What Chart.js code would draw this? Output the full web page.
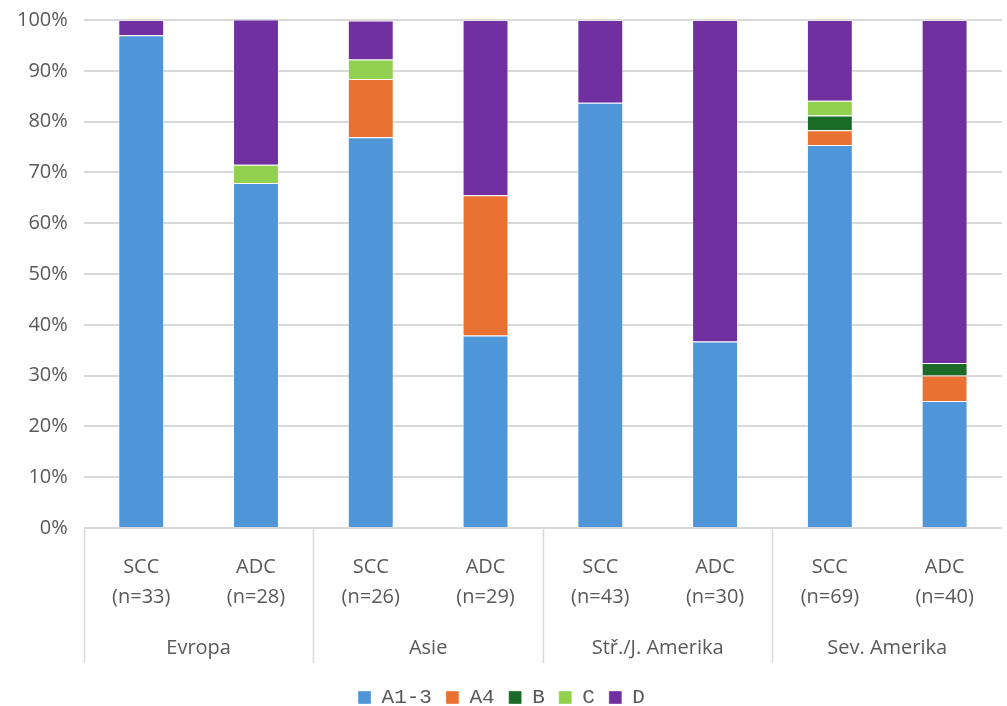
<!DOCTYPE html>
<html>
<head>
<meta charset="utf-8">
<script src="https://cdn.jsdelivr.net/npm/chart.js@4/dist/chart.umd.min.js"></script>
<style>
  html, body { margin: 0; padding: 0; background: #fff; overflow: hidden; }
  #wrap { width: 1007px; height: 726px; position: relative; top: -8px; }
</style>
</head>
<body>
<div id="wrap"><canvas id="myChart"></canvas></div>
<script>
const types = ['SCC', 'ADC', 'SCC', 'ADC', 'SCC', 'ADC', 'SCC', 'ADC'];
const counts = ['(n=33)', '(n=28)', '(n=26)', '(n=29)', '(n=43)', '(n=30)', '(n=69)', '(n=40)'];
const regions = ['Evropa', 'Asie', 'Stř./J. Amerika', 'Sev. Amerika'];

const a13 = [97.0, 67.9, 76.9, 37.9, 83.7, 36.7, 75.4, 25.0];
const a4  = [0, 0, 11.5, 27.6, 0, 0, 2.9, 5.0];
const b   = [0, 0, 0, 0, 0, 0, 2.9, 2.5];
const c   = [0, 3.6, 3.8, 0, 0, 0, 2.9, 0];
const d   = [3.0, 28.6, 7.7, 34.5, 16.3, 63.3, 15.9, 67.5];

const textColor = '#595959';
const gridColor = '#d9d9d9';
const groupGap = 13; // empty space between group labels and legend

const ctx = document.getElementById('myChart');

function ds(label, values, color) {
    return {
        label: label,
        data: values,
        backgroundColor: color,
        borderColor: 'rgba(255,255,255,0.35)',
        borderWidth: 1,
        barPercentage: 0.4,
        categoryPercentage: 1.0,
        xAxisID: 'x',
    };
}

// vertical separators between region groups
const separators = {
    id: 'separators',
    afterDraw(chart) {
        const x = chart.scales.x;
        const x2 = chart.scales.x2;
        const g = chart.ctx;
        const top = chart.chartArea.bottom;
        const bottom = x2.bottom - groupGap + 3;
        const xs = [x.left];
        for (let i = 2; i < types.length; i += 2) {
            xs.push((x.getPixelForValue(i - 1) + x.getPixelForValue(i)) / 2);
        }
        g.save();
        g.strokeStyle = gridColor;
        g.lineWidth = 1.5;
        xs.forEach(px => {
            g.beginPath();
            g.moveTo(Math.round(px) + 0.5, top);
            g.lineTo(Math.round(px) + 0.5, bottom);
            g.stroke();
        });
        g.restore();
    }
};

new Chart(ctx, {
    type: 'bar',
    data: {
        labels: types.map((t, i) => [t, counts[i]]),
        datasets: [
            ds('A1-3', a13, '#4f96d9'),
            ds('A4', a4, '#e97132'),
            ds('B', b, '#1a6b25'),
            ds('C', c, '#92d050'),
            ds('D', d, '#7030a0'),
        ],
    },
    plugins: [separators],
    options: {
        responsive: true,
        maintainAspectRatio: false,
        animation: false,
        layout: {
            padding: { left: 1, right: 5, top: 0, bottom: 0 }
        },
        plugins: {
            legend: {
                position: 'bottom',
                labels: {
                    boxWidth: 13,
                    boxHeight: 13,
                    padding: 14,
                    color: textColor,
                    font: { family: 'Liberation Mono', size: 21 },
                },
            },
            tooltip: { enabled: false },
        },
        scales: {
            x: {
                stacked: true,
                grid: { display: false },
                border: { display: false },
                ticks: {
                    color: textColor,
                    padding: 16,
                    font: { family: 'Open Sans', size: 20, lineHeight: 1.5 },
                    maxRotation: 0,
                },
            },
            x2: {
                type: 'category',
                position: 'bottom',
                labels: regions,
                offset: true,
                grid: { display: false },
                border: { display: false },
                ticks: {
                    color: textColor,
                    padding: 0,
                    font: { family: 'Open Sans', size: 20 },
                    maxRotation: 0,
                },
                afterFit(scale) {
                    scale.height += groupGap;
                },
            },
            y: {
                stacked: true,
                min: 0,
                max: 100,
                ticks: {
                    stepSize: 10,
                    color: textColor,
                    padding: 16,
                    font: { family: 'Open Sans', size: 20 },
                    callback: v => v + '%',
                },
                grid: { color: gridColor, lineWidth: 2, drawTicks: false },
                border: { display: false },
            },
        },
    },
});
</script>
</body>
</html>
